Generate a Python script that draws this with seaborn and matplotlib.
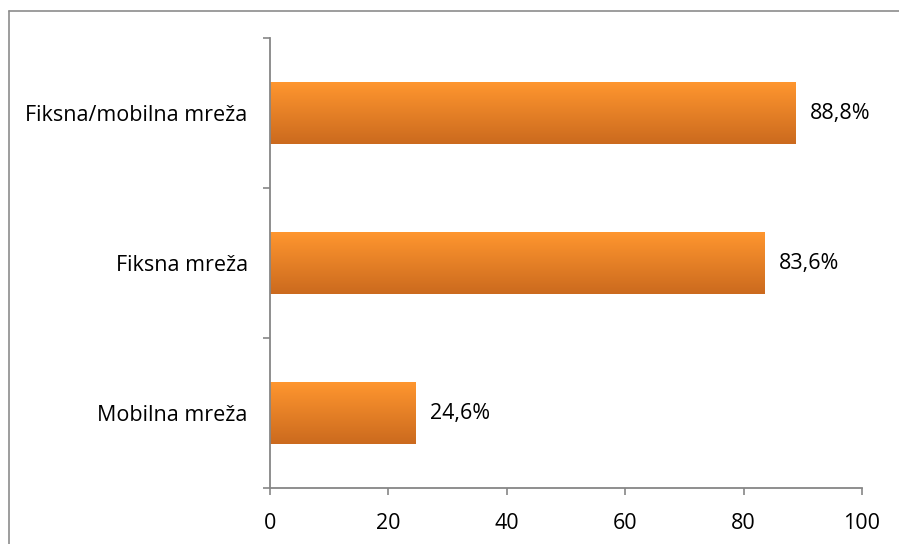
import numpy as np
import pandas as pd
import matplotlib
matplotlib.use('Agg')
import matplotlib.pyplot as plt
import seaborn as sns
from matplotlib.colors import LinearSegmentedColormap
from matplotlib.lines import Line2D

# Data
categories = ['Fiksna/mobilna mreža', 'Fiksna mreža', 'Mobilna mreža']
values = [88.8, 83.6, 24.6]
value_labels = ['88,8%', '83,6%', '24,6%']

df = pd.DataFrame({'kategorija': categories, 'vrijednost': values})

sns.set_style('white')
plt.rcParams['font.family'] = ['Open Sans', 'DejaVu Sans']

fig = plt.figure(figsize=(8.99, 5.44), dpi=100)
ax = fig.add_axes([0.3003, 0.1029, 0.6585, 0.8272])

sns.barplot(data=df, x='vrijednost', y='kategorija', orient='h',
            color='#F08A2A', width=0.41, ax=ax)

# gradient fill for bars
cmap = LinearSegmentedColormap.from_list('org', ['#FF962F', '#CB6A1E'])
grad = np.linspace(0, 1, 256).reshape(-1, 1)
for p in ax.patches:
    x0, y0 = p.get_x(), p.get_y()
    w, h = p.get_width(), p.get_height()
    im = ax.imshow(grad, cmap=cmap, aspect='auto',
                   extent=[x0, x0 + w, y0 + h, y0], zorder=p.get_zorder() + 0.1)
    im.set_clip_path(p)
    p.set_edgecolor('none')

for i, (v, lab) in enumerate(zip(values, value_labels)):
    ax.text(v + 2.4, i, lab, va='center', ha='left', fontsize=15.5, color='#000000')

ax.set_xlim(0, 100)
ax.set_ylim(2.5, -0.5)
ax.set_xticks([0, 20, 40, 60, 80, 100])
ax.set_yticks([0, 1, 2])
ax.set_yticklabels(categories)
ax.set_xlabel('')
ax.set_ylabel('')

# category boundary ticks on y axis
ax.set_yticks([-0.5, 0.5, 1.5, 2.5], minor=True)
ax.tick_params(axis='y', which='major', left=False, length=0, pad=16, labelsize=15.5,
               labelcolor='#000000')
ax.tick_params(axis='y', which='minor', left=True, length=5, width=1.2,
               color='#868686', direction='out')
ax.tick_params(axis='x', bottom=True, length=5, width=1.2, color='#868686',
               direction='out', labelsize=15.5, pad=13, labelcolor='#000000')

for s in ['top', 'right']:
    ax.spines[s].set_visible(False)
for s in ['left', 'bottom']:
    ax.spines[s].set_color('#868686')
    ax.spines[s].set_linewidth(1.3)

# outer chart frame
fig.add_artist(Line2D([9 / 899, 1.0], [1 - 11 / 544, 1 - 11 / 544],
                      color='#8C8C8C', lw=1.2, transform=fig.transFigure))
fig.add_artist(Line2D([9 / 899, 9 / 899], [0, 1 - 11 / 544],
                      color='#8C8C8C', lw=1.2, transform=fig.transFigure))

fig.savefig('out.png', dpi=100)
